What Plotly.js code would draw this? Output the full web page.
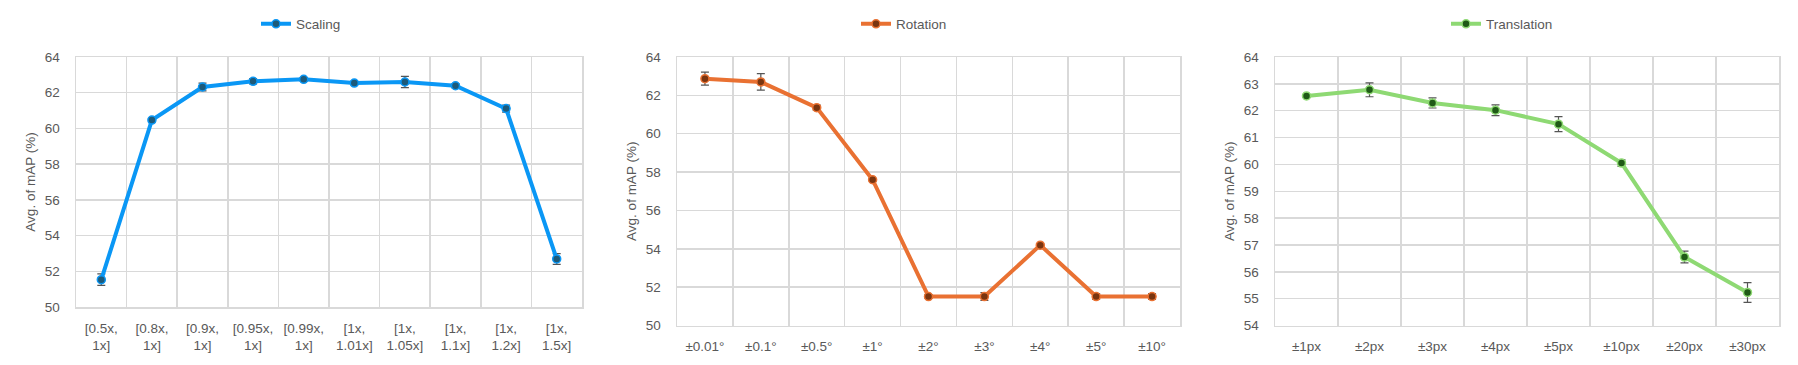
<!DOCTYPE html>
<html>
<head>
<meta charset="utf-8">
<script src="https://cdn.plot.ly/plotly-3.0.1.min.js"></script>
<style>
  html, body { margin: 0; padding: 0; background: #fff; }
  #chart { width: 1798px; height: 365px; }
</style>
</head>
<body>
<div id="chart"></div>
<script>
// Scaling panel
const scalingLabels = ['[0.5x,<br>1x]', '[0.8x,<br>1x]', '[0.9x,<br>1x]', '[0.95x,<br>1x]', '[0.99x,<br>1x]',
    '[1x,<br>1.01x]', '[1x,<br>1.05x]', '[1x,<br>1.1x]', '[1x,<br>1.2x]', '[1x,<br>1.5x]'];
const scalingMean = [51.53, 60.47, 62.32, 62.64, 62.75, 62.54, 62.60, 62.39, 61.11, 52.69];
const scalingErr = [0.32, 0.10, 0.22, 0.15, 0.10, 0.10, 0.32, 0.12, 0.20, 0.30];

// Rotation panel
const rotationLabels = ['±0.01°', '±0.1°', '±0.5°', '±1°', '±2°', '±3°', '±4°', '±5°', '±10°'];
const rotationMean = [62.87, 62.70, 61.36, 57.60, 51.51, 51.51, 54.19, 51.51, 51.51];
const rotationErr = [0.34, 0.43, 0.13, 0.05, 0.10, 0.20, 0.05, 0.15, 0.15];

// Translation panel
const translationLabels = ['±1px', '±2px', '±3px', '±4px', '±5px', '±10px', '±20px', '±30px'];
const translationMean = [62.55, 62.78, 62.29, 62.02, 61.50, 60.05, 56.55, 55.23];
const translationErr = [0.05, 0.26, 0.19, 0.20, 0.28, 0.12, 0.22, 0.37];

const W = 1798, H = 365;
const FONT = 'Liberation Sans, Arial, sans-serif';
const GREY = '#595959';
const GRID = '#d9d9d9';

// pixel boxes of the three plot areas
const panels = [
    { name: 'Scaling', x: scalingLabels, y: scalingMean, err: scalingErr, line: '#0a97f5', fill: '#1d5a7a',
      box: [76, 582, 57, 307], range: [50, 64], dtick: 2, legendX: 301 },
    { name: 'Rotation', x: rotationLabels, y: rotationMean, err: rotationErr, line: '#e97132', fill: '#7a3510',
      box: [677, 1180, 57, 325.5], range: [50, 64], dtick: 2, legendX: 904 },
    { name: 'Translation', x: translationLabels, y: translationMean, err: translationErr, line: '#8ed973', fill: '#1f5a16',
      box: [1275, 1779, 57, 325.5], range: [54, 64], dtick: 1, legendX: 1502 }
];

const traces = [];
const layout = {
    width: W, height: H,
    margin: { l: 0, r: 0, t: 0, b: 0 },
    paper_bgcolor: '#fff', plot_bgcolor: '#fff',
    font: { family: FONT, size: 13.5, color: GREY },
    showlegend: true,
    hovermode: false
};

panels.forEach((p, i) => {
    const n = i === 0 ? '' : String(i + 1);
    const legendKey = 'legend' + n;
    traces.push({
        type: 'scatter', mode: 'lines+markers',
        name: p.name,
        x: p.x, y: p.y,
        xaxis: 'x' + n, yaxis: 'y' + n,
        legend: legendKey,
        line: { color: p.line, width: 4 },
        marker: { color: p.fill, size: 8, line: { color: p.line, width: 1.5 } },
        error_y: { type: 'data', array: p.err, visible: true, color: '#555555', thickness: 1.2, width: 4 }
    });

    const [x0, x1, y0, y1] = p.box;
    layout['xaxis' + n] = {
        domain: [x0 / W, x1 / W],
        anchor: 'y' + n,
        type: 'category',
        range: [-0.5, p.x.length - 0.5],
        tickson: 'boundaries',
        ticks: '',
        showgrid: true, gridcolor: GRID, gridwidth: 1.5,
        showline: true, linecolor: GRID, linewidth: 1.5, mirror: true,
        tickfont: { size: 13.5, color: GREY },
        ticklabelstandoff: 8,
        fixedrange: true
    };
    layout['yaxis' + n] = {
        domain: [1 - y1 / H, 1 - y0 / H],
        anchor: 'x' + n,
        range: p.range,
        dtick: p.dtick,
        ticks: '',
        showgrid: true, gridcolor: GRID, gridwidth: 1.5,
        zeroline: false,
        showline: true, linecolor: GRID, linewidth: 1.5, mirror: true,
        tickfont: { size: 13.5, color: GREY },
        ticklabelstandoff: 12,
        title: { text: 'Avg. of mAP (%)', font: { size: 13.5, color: GREY }, standoff: 6 },
        fixedrange: true
    };
    layout[legendKey] = {
        x: p.legendX / W, xanchor: 'center',
        y: 1 - 24 / H, yanchor: 'middle',
        orientation: 'h',
        bgcolor: 'rgba(0,0,0,0)',
        font: { size: 13.5, color: GREY }
    };
});

Plotly.newPlot('chart', traces, layout, { staticPlot: true, displayModeBar: false });
</script>
</body>
</html>
